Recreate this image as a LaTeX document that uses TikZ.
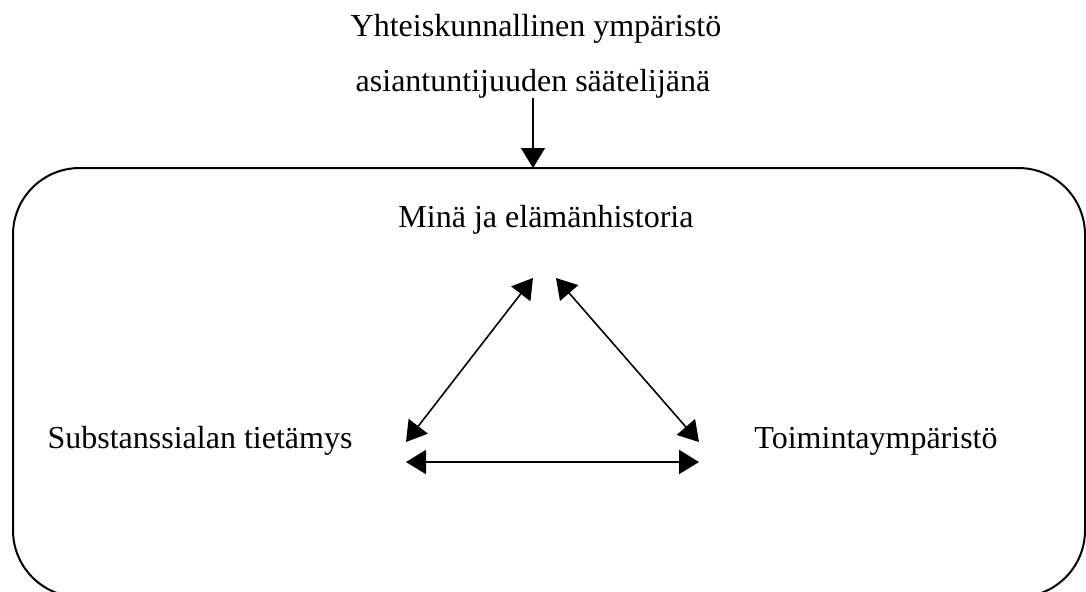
\documentclass[tikz,border=0pt]{standalone}
\usepackage{fontspec}
\setmainfont{Liberation Serif}
\usetikzlibrary{
    positioning,
    calc,
    arrows.meta
}

\tikzset{
    teksti/.style={
        anchor=base,
        inner sep=0pt,
        font=\fontsize{12}{14}\selectfont
    },
    kehys/.style={
        draw,
        line width=0.75pt,
        rounded corners=25pt
    },
    nuoli/.style={
        -{Triangle[length=7.5pt,width=9pt]},
        line width=0.5pt
    },
    kaksinuoli/.style={
        {Triangle[length=7.5pt,width=9pt]}-{Triangle[length=7.5pt,width=9pt]},
        line width=0.6pt
    }
}

\begin{document}
\begin{tikzpicture}[x=0.375pt, y=-0.375pt]

    \useasboundingbox (0,0) rectangle (1086,591);
    \clip (0,0) rectangle (1086,591);

    % kehys
    \draw[kehys] (13,168) coordinate (kehysyla) rectangle (1085,597);

    % tekstit
    \node[teksti] (yhteiskunta) at (536,36) {Yhteiskunnallinen ympäristö};
    \node[teksti] (saatelija) at (533,91) {asiantuntijuuden säätelijänä};
    \node[teksti] (mina) at (546,227) {Minä ja elämänhistoria};
    \node[teksti] (substanssi) at (200,448) {Substanssialan tietämys};
    \node[teksti] (toiminta) at (876,448) {Toimintaympäristö};

    % nuolten päät
    \coordinate (minavasen) at (533,278);
    \coordinate (minaoikea) at (556,278);
    \coordinate (substanssiyla) at (406,442);
    \coordinate (substanssiala) at (406,462);
    \coordinate (toimintayla) at (699,442);
    \coordinate (toimintaala) at (699,462);

    % nuolet
    \draw[nuoli] (saatelija.south) -- (saatelija.south |- kehysyla);
    \draw[kaksinuoli] (substanssiyla) -- (minavasen);
    \draw[kaksinuoli] (toimintayla) -- (minaoikea);
    \draw[kaksinuoli, line width=0.75pt] (substanssiala) -- (toimintaala);

\end{tikzpicture}
\end{document}
